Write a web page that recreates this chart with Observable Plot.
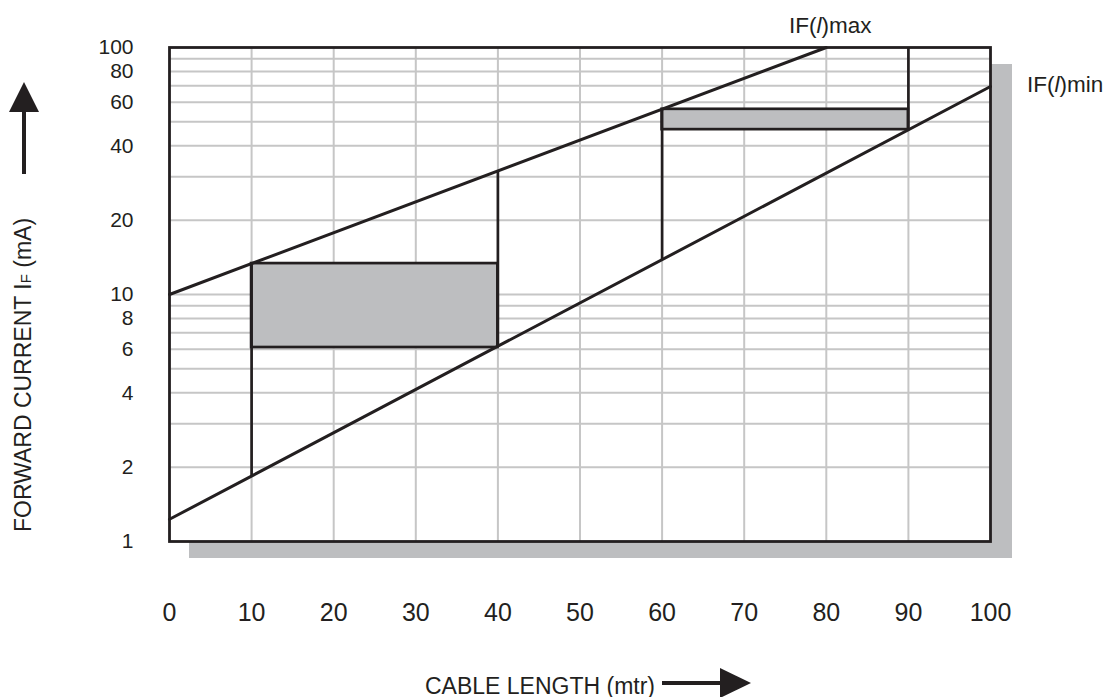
<!DOCTYPE html>
<html>
<head>
<meta charset="utf-8">
<script src="https://cdn.jsdelivr.net/npm/d3@7"></script>
<script src="https://cdn.jsdelivr.net/npm/@observablehq/plot@0.6"></script>
<style>
  html, body { margin: 0; padding: 0; background: #fff; }
  #chart svg { display: block; }
</style>
</head>
<body>
<div id="chart"></div>
<script>
// ---- data ----
const xTicks = [0, 10, 20, 30, 40, 50, 60, 70, 80, 90, 100];
const xGrid = [10, 20, 30, 40, 50, 60, 70, 80, 90];
const yTicks = [1, 2, 4, 6, 8, 10, 20, 40, 60, 80, 100];
const yGrid = [2, 3, 4, 5, 6, 7, 8, 9, 10, 20, 30, 40, 50, 60, 70, 80, 90];

const maxLineX = [0, 80];
const maxLineY = [10, 100];
const minLineX = [0, 100];
const minLineY = [1.23, 69.5];

const boxX1 = [10, 60];
const boxX2 = [40, 90];
const boxYLow = [6.1, 46.5];
const boxYHigh = [13.34, 56.2];

const stemX = [10, 40, 60, 90];
const stemYLow = [1.84, 6.1, 13.8, 46.5];
const stemYHigh = [13.34, 31.6, 56.2, 100];

// ---- tables built from arrays ----
const frameData = [{x1: 0, x2: 100, y1: 1, y2: 100}];
const maxLine = maxLineX.map((x, i) => ({x, y: maxLineY[i]}));
const minLine = minLineX.map((x, i) => ({x, y: minLineY[i]}));
const boxes = boxX1.map((x1, i) => ({x1, x2: boxX2[i], y1: boxYLow[i], y2: boxYHigh[i]}));
const stems = stemX.map((x, i) => ({x, y1: stemYLow[i], y2: stemYHigh[i]}));

const DARK = "#231f20";
const GRAY = "#bdbec0";
const GRID = "#c6c6c6";
const FONT = "'Liberation Sans', Arial, Helvetica, sans-serif";

const chart = Plot.plot({
  width: 1115,
  height: 697,
  marginLeft: 169,
  marginRight: 125,
  marginTop: 47,
  marginBottom: 156,
  style: {fontFamily: FONT, color: "#231f20", background: "#fff", overflow: "visible"},
  x: {domain: [0, 100], axis: null},
  y: {type: "log", domain: [1, 100], axis: null},
  marks: [
    // drop shadow
    Plot.rect(frameData, {x1: "x1", x2: "x2", y1: "y1", y2: "y2", fill: GRAY, dx: 20, dy: 17, insetRight: -2}),
    // white plot area
    Plot.rect(frameData, {x1: "x1", x2: "x2", y1: "y1", y2: "y2", fill: "#fff"}),
    // grid
    Plot.ruleY(yGrid, {stroke: GRID, strokeWidth: 2}),
    Plot.ruleX(xGrid, {stroke: GRID, strokeWidth: 2}),
    // shaded boxes
    Plot.rect(boxes, {x1: "x1", x2: "x2", y1: "y1", y2: "y2", fill: GRAY, stroke: DARK, strokeWidth: 2.7}),
    // vertical stems
    Plot.ruleX(stems, {x: "x", y1: "y1", y2: "y2", stroke: DARK, strokeWidth: 2.7}),
    // limit lines
    Plot.line(maxLine, {x: "x", y: "y", stroke: DARK, strokeWidth: 3}),
    Plot.line(minLine, {x: "x", y: "y", stroke: DARK, strokeWidth: 3}),
    // frame
    Plot.frame({stroke: DARK, strokeWidth: 2.8}),
    // tick labels
    Plot.text(yTicks, {y: d => d, text: d => String(d), frameAnchor: "left", dx: -36, textAnchor: "end", lineAnchor: "middle", fontSize: 21, fill: DARK}),
    Plot.text(xTicks, {x: d => d, text: d => String(d), frameAnchor: "bottom", dy: 71, lineAnchor: "middle", fontSize: 25, fill: DARK})
  ]
});

document.getElementById("chart").appendChild(chart);

// ---- annotations (titles, arrows, line labels) ----
const svg = d3.select(chart);
const g = svg.append("g").attr("font-family", FONT).attr("fill", DARK).attr("text-anchor", "start");

// Y title
const yt = g.append("text")
  .attr("transform", "translate(31,375) rotate(-90)")
  .attr("text-anchor", "middle")
  .attr("font-size", 23);
yt.append("tspan").text("FORWARD CURRENT I");
yt.append("tspan").attr("font-size", 15).text("F");
yt.append("tspan").text(" (mA)");

// Y arrow
g.append("rect").attr("x", 22).attr("y", 108).attr("width", 4).attr("height", 66).attr("fill", DARK);
g.append("path").attr("d", "M24,82 L39,112 L9,112 Z").attr("fill", DARK);

// X title
g.append("text")
  .attr("x", 425).attr("y", 694)
  .attr("font-size", 23)
  .text("CABLE LENGTH (mtr)");
// X arrow
g.append("rect").attr("x", 662).attr("y", 681).attr("width", 60).attr("height", 4).attr("fill", DARK);
g.append("path").attr("d", "M751,683 L720,668 L720,698 Z").attr("fill", DARK);

// Line labels
const lmax = g.append("text").attr("x", 789).attr("y", 33).attr("font-size", 22.5);
lmax.append("tspan").text("IF(");
lmax.append("tspan").attr("font-style", "italic").text("l");
lmax.append("tspan").text(")max");

const lmin = g.append("text").attr("x", 1027).attr("y", 92).attr("font-size", 22.5);
lmin.append("tspan").text("IF(");
lmin.append("tspan").attr("font-style", "italic").text("l");
lmin.append("tspan").text(")min");
</script>
</body>
</html>
